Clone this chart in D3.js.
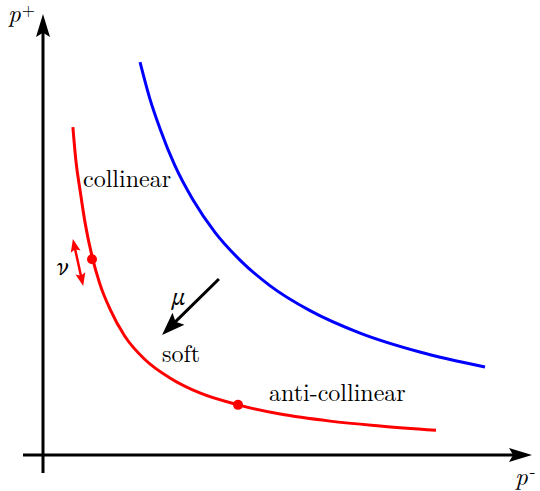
<!DOCTYPE html>
<html>
<head>
<meta charset="utf-8">
<script src="https://cdn.jsdelivr.net/npm/d3@7"></script>
<style>
  body { margin: 0; background: #fff; }
</style>
</head>
<body>
<svg id="chart" width="540" height="491" viewBox="0 0 540 491"></svg>
<script>
// --- data (arbitrary units) ---
const redCurveX = [0.61, 0.67, 0.76, 0.86, 1.00, 1.16, 1.37, 1.67, 2.08, 2.59, 3.20, 3.98, 4.84, 5.86, 6.88, 8.02];
const redCurveY = [7.45, 6.70, 5.99, 5.27, 4.52, 3.89, 3.31, 2.70, 2.17, 1.75, 1.41, 1.14, 0.93, 0.77, 0.66, 0.56];
const blueCurveX = [1.98, 2.18, 2.39, 2.69, 3.06, 3.51, 4.02, 4.63, 5.45, 6.47, 7.69, 9.02];
const blueCurveY = [8.93, 8.10, 7.41, 6.58, 5.80, 5.06, 4.43, 3.85, 3.28, 2.77, 2.34, 2.00];
const dotX = [1.00, 3.98];
const dotY = [4.45, 1.14];
const muArrow = [[3.59, 4.00], [2.43, 2.73]];
const nuArrow = [[0.61, 4.91], [0.82, 3.84]];
const regionLabels = ["collinear", "soft", "anti-collinear"];

const roman = '"Latin Modern Roman", "Liberation Serif", serif';
const greek = '"STIX Two Text", "Liberation Serif", serif';
const svg = d3.select("#chart");
const width = 540, height = 491;

const x = d3.scaleLinear().domain([0, 10]).range([43, 533]);
const y = d3.scaleLinear().domain([0, 10]).range([455, 15]);

// arrowhead drawn as a path, tip at (tx,ty) pointing along angle
function arrowHead(tx, ty, angle, len, w, color) {
  const path = `M0,0 L${-len},${-w / 2} L${-len * 0.82},0 L${-len},${w / 2} Z`;
  svg.append("path")
    .attr("d", path)
    .attr("transform", `translate(${tx},${ty}) rotate(${angle * 180 / Math.PI})`)
    .attr("fill", color);
}

function addText(xp, yp, size, family) {
  return svg.append("text")
    .attr("x", xp).attr("y", yp)
    .attr("font-family", family || roman)
    .attr("font-size", size)
    .attr("fill", "#000");
}

// --- axes ---
svg.append("line")
  .attr("x1", x(0)).attr("y1", 473)
  .attr("x2", x(0)).attr("y2", 30)
  .attr("stroke", "#000").attr("stroke-width", 3);
arrowHead(x(0), 14, -Math.PI / 2, 23, 14, "#000");

svg.append("line")
  .attr("x1", 23).attr("y1", y(0))
  .attr("x2", 516).attr("y2", y(0))
  .attr("stroke", "#000").attr("stroke-width", 3);
arrowHead(532, y(0), 0, 23, 14, "#000");

// axis labels
const pPlus = addText(8, 22, 25);
pPlus.append("tspan").attr("font-style", "italic").text("p");
pPlus.append("tspan").attr("dy", -6).attr("dx", 1).attr("font-size", 17).text("+");

const pMinus = addText(515, 485, 25);
pMinus.append("tspan").attr("font-style", "italic").text("p");
pMinus.append("tspan").attr("dy", -8).attr("dx", 2).attr("font-size", 17).text("-");

// --- curves ---
const line = d3.line()
  .x(d => x(d[0]))
  .y(d => y(d[1]))
  .curve(d3.curveMonotoneX);

svg.append("path")
  .datum(blueCurveX.map((v, i) => [v, blueCurveY[i]]))
  .attr("d", line)
  .attr("fill", "none")
  .attr("stroke", "#0000ff")
  .attr("stroke-width", 3);

svg.append("path")
  .datum(redCurveX.map((v, i) => [v, redCurveY[i]]))
  .attr("d", line)
  .attr("fill", "none")
  .attr("stroke", "#ff0000")
  .attr("stroke-width", 3);

svg.selectAll(".dot")
  .data(dotX.map((v, i) => [v, dotY[i]]))
  .join("circle")
  .attr("class", "dot")
  .attr("cx", d => x(d[0]))
  .attr("cy", d => y(d[1]))
  .attr("r", 5)
  .attr("fill", "#ff0000");

// --- mu arrow (black) ---
{
  const [s, e] = muArrow.map(d => [x(d[0]), y(d[1])]);
  const ang = Math.atan2(e[1] - s[1], e[0] - s[0]);
  svg.append("line")
    .attr("x1", s[0]).attr("y1", s[1])
    .attr("x2", e[0] - 16 * Math.cos(ang)).attr("y2", e[1] - 16 * Math.sin(ang))
    .attr("stroke", "#000").attr("stroke-width", 3);
  arrowHead(e[0], e[1], ang, 23, 17, "#000");
}

// --- nu double arrow (red) ---
{
  const [s, e] = nuArrow.map(d => [x(d[0]), y(d[1])]);
  const ang = Math.atan2(e[1] - s[1], e[0] - s[0]);
  svg.append("line")
    .attr("x1", s[0] + 9 * Math.cos(ang)).attr("y1", s[1] + 9 * Math.sin(ang))
    .attr("x2", e[0] - 9 * Math.cos(ang)).attr("y2", e[1] - 9 * Math.sin(ang))
    .attr("stroke", "#ff0000").attr("stroke-width", 2.5);
  arrowHead(e[0], e[1], ang, 13, 10, "#ff0000");
  arrowHead(s[0], s[1], ang + Math.PI, 13, 10, "#ff0000");
}

// --- labels ---
addText(172, 305, 24, greek).attr("font-style", "italic").text("\u03bc");
addText(57, 275, 24, greek).attr("font-style", "italic").text("\u03bd");

const labelPos = [[83, 187], [162, 362], [269, 401]];
regionLabels.forEach((t, i) => {
  addText(labelPos[i][0], labelPos[i][1], 24).text(t);
});
</script>
</body>
</html>
